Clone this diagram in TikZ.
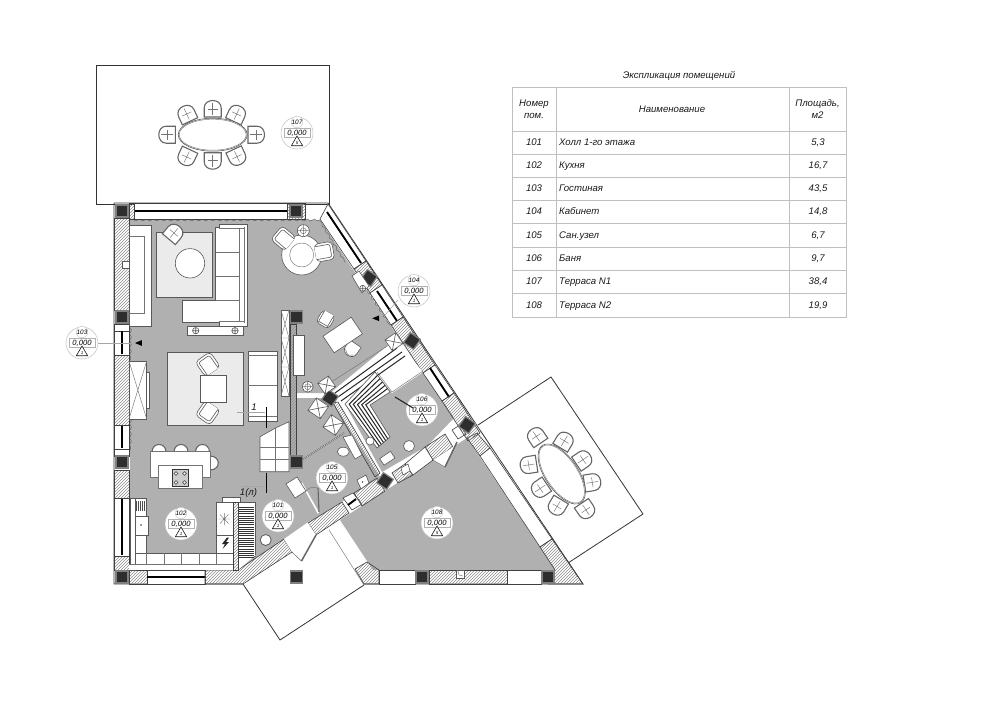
\documentclass[tikz,border=0pt]{standalone}
\usepackage{fontspec}
\setmainfont{Liberation Sans}
\usetikzlibrary{patterns,shapes.geometric,decorations.pathmorphing}

\newcommand{\dchair}[3]{\begin{scope}[shift={(#1,#2)},rotate=#3]
	\draw[chairline] (-8.5,8) -- (8.5,8) -- (8.5,-1) .. controls (8.5,-11) and (-8.5,-11) .. (-8.5,-1) -- cycle;
	\draw[thinline] (0,-6) -- (0,6) (-5,0) -- (5,0);
\end{scope}}
\newcommand{\armchair}[3]{\begin{scope}[shift={(#1,#2)},rotate=#3]
	\draw[furn,rounded corners=4] (-9,-9) rectangle (9,9);
	\draw[furn,rounded corners=2] (-6.5,9) -- (-6.5,-6.5) -- (6.5,-6.5) -- (6.5,9);
\end{scope}}
\newcommand{\xbox}[5]{\begin{scope}[shift={(#1,#2)},rotate=#3]
	\draw[furn] (-#4,-#5) rectangle (#4,#5) (-#4,-#5) -- (#4,#5) (-#4,#5) -- (#4,-#5);
\end{scope}}
\newcommand{\diningset}[3]{\begin{scope}[shift={(#1,#2)},rotate=#3]
	\dchair{0}{-25.7}{0}
	\dchair{-26}{-20.7}{25}
	\dchair{24}{-20.7}{-25}
	\dchair{-45.4}{0}{90}
	\dchair{43.3}{0}{-90}
	\dchair{-26}{22.3}{155}
	\dchair{0}{26}{180}
	\dchair{24.3}{22}{-155}
	\draw[furn] (0,0) ellipse [x radius=34.5,y radius=16.5];
	\draw[thinline] (0,0) ellipse [x radius=33.5,y radius=15.5];
\end{scope}}
\newcommand{\roomtag}[5]{%
	\node[tagdisc] (#1) at (#2,#3) {};
	\node[tagnum] (#1num) at ([yshift=11pt]#1.center) {#4};
	\node[tagbox] (#1lev) at (#1.center) {0,000};
	\node[tagtri] (#1tri) at ([yshift=-9.5pt]#1.center) {#5};
}

\begin{document}
\begin{tikzpicture}[x=1pt,y=-1pt]

	\tikzstyle outline=[draw=black!80,line width=.8];
	\tikzstyle furn=[draw=black!65,line width=.6,fill=white];
	\tikzstyle thinline=[draw=black!55,line width=.45];
	\tikzstyle chairline=[draw=black!60,line width=1.1,fill=white];
	\tikzstyle wallhatch=[draw=black!75,line width=.6,pattern=north east lines,pattern color=black!45];
	\tikzstyle glazing=[draw=black!75,line width=.6,fill=white];
	\tikzstyle pane=[draw=black,line width=1.9];
	\tikzstyle room=[fill=black!31];
	\tikzstyle rug=[draw=black!65,line width=.9,fill=black!8];
	\tikzstyle curtain=[draw=black!60,line width=.5,decorate,decoration={snake,amplitude=.9,segment length=7}];
	\tikzstyle pillar=[rectangle,draw=black!50,line width=1.2,fill=black!82,minimum size=12,inner sep=0];
	\tikzstyle tagdisc=[circle,draw=black!25,line width=.5,fill=white,minimum size=32,inner sep=0];
	\tikzstyle tagnum=[circle,draw=black!25,line width=.4,fill=white,minimum size=11,inner sep=0,font=\fontsize{6.4}{7}\selectfont\itshape];
	\tikzstyle tagbox=[rectangle,draw=black!30,line width=.4,fill=white,minimum width=26,minimum height=9,inner sep=0,font=\fontsize{7.6}{8}\selectfont\itshape];
	\tikzstyle tagtri=[regular polygon,regular polygon sides=3,draw=black!90,line width=.6,fill=white,minimum size=13,inner sep=0,font=\fontsize{4.5}{5}\selectfont\itshape];
	\tikzstyle cell=[inner sep=0,font=\fontsize{9.6}{11.5}\selectfont\itshape,align=center,text=black!90];
	\tikzstyle rowcell=[cell,text height=7,text depth=2];
	\tikzstyle gridline=[draw=black!25,line width=.8];
	\tikzstyle leader=[draw=black!35,line width=.5];

	\useasboundingbox (0,0) rectangle (1000,706);

	% terraces
	\draw[outline] (96,65) rectangle (329,204);
	\draw[outline] (478,425) -- (551,377) -- (643,514) -- (568,563);
	\draw[outline] (243,584) -- (280,640) -- (364,585);
	\draw[thinline] (329,530) -- (364,585);
	\draw[thinline] (292,552) -- (301.5,561);
	\diningset{212.7}{134.7}{0}
	\diningset{561.7}{474}{-56}

	% rooms
	\fill[room] (130,220) -- (320,220) -- (398,337) -- (330,393) -- (296,393) -- (296,462) -- (318,515) -- (284,539) -- (238,570) -- (130,570) -- cycle;
	\fill[room] (297,398) -- (330,398) -- (380,477) -- (354,494) -- (308,523) -- (318,513) -- (297,470) -- cycle;
	\fill[room] (345,404) -- (375,372) -- (392,393) -- (423,372) -- (454,418) -- (427,446) -- (382,472) -- cycle;
	\fill[room] (340,520) -- (467,438) -- (540,547) -- (555,570) -- (373,570) -- cycle;

	% curtains
	\draw[curtain] (130,220) -- (320,220);
	\draw[curtain] (320,221) -- (345,262);
	\draw[curtain] (358,276) -- (390,325);
	\draw[curtain] (130.5,328) -- (130.5,360);
	\draw[curtain] (130.5,418) -- (130.5,450);

	% outer walls
	\draw[glazing] (134,203) rectangle (287,219);
	\draw[pane] (134,211) -- (287,211);
	\draw[wallhatch] (129,203) rectangle (134,219);
	\draw[wallhatch] (287,203) rectangle (305,219);
	\draw[outline] (114,203) -- (328,203) -- (583,584) -- (364,584) (243,584) -- (114,584) -- (114,203);

	\draw[wallhatch] (114,218) rectangle (129,310);
	\draw[glazing] (114,324) rectangle (129,331);
	\draw[glazing] (114,331) rectangle (129,355);
	\draw[pane] (122,331) -- (122,354);
	\draw[wallhatch] (114,355) rectangle (129,425);
	\draw[glazing] (114,425) rectangle (129,449);
	\draw[pane] (122,426) -- (122,448);
	\draw[glazing] (114,449) rectangle (129,456);
	\draw[wallhatch] (114,470) rectangle (129,498);
	\draw[glazing] (114,498) rectangle (129,556);
	\draw[pane] (122,499) -- (122,555);
	\draw[wallhatch] (114,556) rectangle (129,570);
	\draw[wallhatch] (129,570) rectangle (147,584);
	\draw[glazing] (147,570) rectangle (205,584);
	\draw[pane] (147,577) -- (205,577);

	% diagonal wall
	\draw[wallhatch] (205,570) -- (238,570) -- (284,539) -- (292,552) -- (243,584) -- (205,584) -- cycle;
	\draw[wallhatch] (308,523) -- (342,502) -- (349,513) -- (316,535) -- cycle;
	\draw[glazing] (343,498) -- (353,493) -- (362,504) -- (352,510) -- cycle;
	\draw[pane] (348,505) -- (356,499);
	\draw[wallhatch] (354,493) -- (377,478) -- (385,491) -- (362,506) -- cycle;
	\draw[wallhatch] (392,473) -- (405,464) -- (413,475) -- (398,483) -- cycle;
	\draw[wallhatch] (425,447) -- (445,434) -- (453,447) -- (433,460) -- cycle;
	\draw[glazing] (452,430) -- (460,425) -- (466,434) -- (458,439) -- cycle;
	\draw[glazing] (405,464) -- (425,447) -- (433,460) -- (413,475) -- cycle;
	\fill[white] (284,539) -- (308,523) -- (316,535) -- (292,552) -- cycle;
	\fill[white] (292,552) -- (301.5,561) -- (316,535) -- cycle;
	\draw[thinline] (292,552) -- (301.5,561);
	\draw[line width=1.5,draw=black!60] (316,535) -- (301.5,561);
	\fill[white] (433,460) -- (445,467) -- (457,442) -- (453,447) -- cycle;
	\draw[thinline] (433,460) -- (445,467);
	\draw[line width=1.5,draw=black!60] (445,467) -- (457,442);

	% NE wall
	\draw[glazing] (328,204) -- (366,261) -- (354,269) -- (320,219) -- cycle;
	\draw[pane] (327,212) -- (361,263);
	\draw[wallhatch] (366,261) -- (382,285) -- (370,293) -- (354,269) -- cycle;
	\draw[glazing] (382,285) -- (403,317) -- (391,325) -- (370,293) -- cycle;
	\draw[pane] (377,291) -- (397,321);
	\draw[wallhatch] (403,317) -- (435,365) -- (423,373) -- (391,325) -- cycle;
	\draw[glazing] (435,365) -- (454,393) -- (442,401) -- (423,373) -- cycle;
	\draw[pane] (430,368) -- (449,397);
	\draw[wallhatch] (454,393) -- (480,433) -- (468,441) -- (442,401) -- cycle;
	\draw[wallhatch] (477,433) -- (490,448) -- (480,456) -- (467,438) -- cycle;
	\draw[glazing] (490,448) -- (552,539) -- (540,547) -- (480,456) -- cycle;
	\draw[wallhatch] (540,547) -- (552,539) -- (583,584) -- (548,584) -- (555,570) -- cycle;

	% south wall
	\draw[wallhatch] (355,569) -- (367,562) -- (379,570) -- (379,584) -- (364,584) -- cycle;
	\draw[glazing] (379,570) rectangle (415,584);
	\draw[wallhatch] (429,570) rectangle (507,584);
	\draw[glazing] (507,570) rectangle (541,584);
	\draw[furn] (456,570) rectangle (464,578);
	\draw[thinline] (458,571) -- (459,575) -- (463,576);

	% inner walls
	\draw[wallhatch] (290,324) rectangle (296,455);
	\draw[furn] (281,310) rectangle (289,396);
	\draw[thinline] (281,310) -- (289,338) -- (281,367) -- (289,396) (289,310) -- (281,338) -- (289,367) -- (281,396) (281,338) -- (289,338) (281,367) -- (289,367);
	\draw[wallhatch] (333,403) -- (338,402) -- (380,473) -- (375,477) -- cycle;
	\draw[draw=black!80,line width=1.1,fill=white] (302,460) -- (344,433);
	\draw[draw=white,line width=.4] (302,460) -- (344,433);
	\draw[draw=white,line width=1.6] (301.7,483) -- (318.3,513);
	\draw[furn] (286,484) -- (297,477) -- (306,491) -- (295,498) -- cycle;
	\draw[line width=1.1,draw=black!60] (318,488) -- (319,512);
	\draw[thinline] (305,492) .. controls (310,487) .. (318,488);

	% sauna
	\fill[white] (334,392) -- (398,343) -- (423,372) -- (392,393) -- (377,372) -- (345,404) -- cycle;
	\draw[thinline] (377,372) -- (392,392) -- (423,371);
	\draw[line width=1,draw=black!85] (335,393) -- (397,348) (338,397) -- (402,352) (341,401) -- (405,356);
	\draw[furn] (345,404) -- (375,372) -- (390,392) -- (370,405) -- (390,437) -- (377,448) -- cycle;
	\draw[line width=1,draw=black!85] (377.5,375.4) -- (349.2,404.2) -- (379.2,446.1);
	\draw[line width=1,draw=black!85] (380,378.6) -- (353.3,404.3) -- (381.3,444.4);
	\draw[line width=1,draw=black!85] (382.5,382) -- (357.5,404.5) -- (383.5,442.5);
	\draw[line width=1,draw=black!85] (385,385.4) -- (361.7,404.7) -- (385.7,440.6);
	\draw[line width=1,draw=black!85] (387.5,388.6) -- (365.8,404.8) -- (387.8,438.9);
	\draw[furn] (370,441) circle (4);
	\draw[furn] (409,446) circle (5.5);
	\begin{scope}[shift={(387.3,458.3)},rotate=34]
		\draw[furn] (-6.5,-4) rectangle (6.5,4);
	\end{scope}
	\draw[furn] (401,468) -- (408,464) -- (410,471) -- (403,475) -- cycle;

	% pillars
	\node[pillar] (col1) at (122,211) {};
	\node[pillar] (col2) at (296,211) {};
	\node[pillar] (col3) at (122,317) {};
	\node[pillar] (col4) at (296.5,317) {};
	\node[pillar] (col5) at (122,462) {};
	\node[pillar] (col6) at (296.5,462) {};
	\node[pillar] (col7) at (122,577) {};
	\node[pillar] (col8) at (296.5,577) {};
	\node[pillar] (col9) at (422,577) {};
	\node[pillar] (col10) at (548,577) {};
	\node[pillar,rotate=-34] (col11) at (369,278) {};
	\node[pillar,rotate=-34] (col12) at (412,341) {};
	\node[pillar,rotate=-34] (col13) at (467,425) {};
	\node[pillar,rotate=-34] (col14) at (330,398) {};
	\node[pillar,rotate=-34] (col15) at (385,481) {};

	% living room
	\draw[furn] (129,225) rectangle (151,326);
	\draw[thinline] (129,236) -- (144,236) -- (144,313) -- (129,313);
	\draw[furn] (122,261) rectangle (129,268);
	\draw[rug] (156.7,232.3) rectangle (212,297.3);
	\draw[furn] (190,263.3) circle (14.7);
	\dchair{174}{233}{-40}
	\draw[furn] (219,224) -- (247.7,224) -- (247.7,326) -- (219,326) -- (219,322.7) -- (182.7,322.7) -- (182.7,300.7) -- (215.7,300.7) -- (215.7,227.3) -- (219,227.3) -- cycle;
	\draw[thinline] (215.7,252.3) -- (239.3,252.3) (215.7,276.7) -- (239.3,276.7) (215.7,300.7) -- (239.3,300.7) (239.3,228) -- (239.3,321.7) (244.3,227.3) -- (244.3,322.7) (219,228) -- (244.3,228) (219,321.7) -- (244.3,321.7);
	\draw[furn] (187.7,326) rectangle (243.3,335);
	\draw[furn] (195.7,330.7) circle (3.2) (192.5,330.7) -- (198.9,330.7) (195.7,327.5) -- (195.7,333.9);
	\draw[furn] (235,330.7) circle (3.2) (231.8,330.7) -- (238.2,330.7) (235,327.5) -- (235,333.9);
	\draw[rug] (167.7,352.7) rectangle (243.3,425);
	\armchair{207.7}{364.3}{35}
	\armchair{207.7}{412.7}{145}
	\draw[furn] (200,375.7) rectangle (226.7,402.3);
	\draw[furn] (248.3,351.7) rectangle (277,421);
	\draw[thinline] (248.3,355) -- (277,355) (248.3,385) -- (277,385) (248.3,416) -- (277,416);
	\draw[furn] (146.7,372) rectangle (149,408);
	\draw[furn] (129,361) rectangle (146.7,419);
	\draw[thinline] (129,361) -- (146.7,419) (146.7,361) -- (129,419);
	\draw[leader] (98,343) -- (133,343);
	\node[isosceles triangle,fill=black,minimum height=7,minimum width=3,inner sep=0,shape border rotate=180] (mark103) at (140,343) {};

	% lounge and office
	\draw[furn] (301.7,255) circle (20);
	\draw[thinline] (301.7,255) circle (12);
	\armchair{283.3}{238.3}{50}
	\armchair{324.3}{251.7}{-80}
	\draw[furn] (303.3,230.7) circle (6);
	\draw[thinline] (303.3,230.7) circle (3) (297.3,230.7) -- (309.3,230.7) (303.3,224.7) -- (303.3,236.7);
	\draw[furn] (293.3,335) rectangle (304.3,375);
	\draw[furn] (307.7,386.7) circle (5.5);
	\draw[thinline] (307.7,386.7) circle (3) (302.2,386.7) -- (313.2,386.7) (307.7,381.2) -- (307.7,392.2);
	\draw[thinline] (326.7,385) -- (394,341.7);
	\xbox{326.7}{385}{34}{6.5}{6.5}
	\xbox{394}{341.7}{34}{6.5}{6.5}
	\begin{scope}[shift={(325.7,319.3)},rotate=-30,scale=.8]
		\draw[furn,rounded corners=4] (-9,-9) rectangle (9,9);
		\draw[furn] (-6.5,-9) -- (-6.5,6.5) -- (6.5,6.5) -- (6.5,-9);
	\end{scope}
	\begin{scope}[shift={(351.7,349.3)},rotate=146,scale=.85]
		\draw[furn] (-8,8) -- (8,8) -- (8,-1) .. controls (8,-11) and (-8,-11) .. (-8,-1) -- cycle;
		\draw[thinline] (-6,-4) .. controls (0,-9) .. (6,-4);
	\end{scope}
	\begin{scope}[shift={(342.7,335)},rotate=34]
		\draw[furn] (-17,-10) rectangle (17,10);
	\end{scope}
	\draw[furn] (352,276) -- (359,271) -- (369,286) -- (362,293) -- cycle;
	\draw[furn] (362.7,288.3) circle (3) (359.7,288.3) -- (365.7,288.3) (362.7,285.3) -- (362.7,291.3);
	\draw[leader] (398,300) -- (385,315);
	\node[isosceles triangle,fill=black,minimum height=7,minimum width=3,inner sep=0,shape border rotate=215] (mark104) at (377.3,318.3) {};

	% kitchen
	\draw[chairline] (152,452) .. controls (152,442) and (166,442) .. (166,452);
	\draw[chairline] (174,452) .. controls (174,442) and (188,442) .. (188,452);
	\draw[chairline] (195.5,452) .. controls (195.5,442) and (209.5,442) .. (209.5,452);
	\draw[chairline] (210,456) .. controls (221,456) and (221,470) .. (210,470);
	\fill[white] (150,451) rectangle (210.7,477.3);
	\draw[thinline] (150,451) rectangle (210.7,477.3);
	\fill[white] (158.7,465.3) rectangle (202,488.3);
	\draw[thinline] (158.7,465.3) rectangle (202,488.3);
	\draw[draw=black!80,line width=1,fill=black!20] (172,469.3) rectangle (188.7,486.7);
	\draw[furn,line width=.7] (176,473.5) circle (1.8) (184.5,473.5) circle (1.8) (176,482.5) circle (1.8) (184.5,482.5) circle (1.8);
	\draw[furn] (130,498.3) rectangle (135,570);
	\draw[furn] (135,498.3) rectangle (146.7,553.3);
	\draw[line width=10,draw=black!70,dash pattern=on .8 off 1.2] (136,505.5) -- (146,505.5);
	\draw[furn] (135,516.7) rectangle (148.3,535);
	\fill[black!80] (141,525) circle (.8);
	\draw[furn] (135,553.3) rectangle (233,564.3);
	\draw[thinline] (146.7,553.3) -- (146.7,564.3) (164.3,553.3) -- (164.3,564.3) (181.7,553.3) -- (181.7,564.3) (199.3,553.3) -- (199.3,564.3) (216.7,553.3) -- (216.7,564.3);
	\fill[white] (129,564.3) rectangle (233,570);
	\draw[thinline] (129,564.3) -- (233,564.3);
	\draw[furn] (222,497.5) rectangle (240,502.7);
	\draw[furn] (216.7,502.7) rectangle (233.3,535);
	\draw[furn] (216.7,535) rectangle (233.3,553.3);
	\draw[thinline] (218.5,519) -- (230,519) (224.3,513) -- (224.3,525) (220,514.5) -- (228.5,523.5) (220,523.5) -- (228.5,514.5);
	\fill[black!85] (227,537.5) -- (222,544) -- (225,544) -- (222.5,549) -- (229,542) -- (226,542) -- (229,537.5) -- cycle;
	\draw[furn] (233.3,502.7) rectangle (255.7,556);
	\fill[white] (233.3,556) -- (255.7,556) -- (255.7,555) -- (238,570) -- (233.3,570) -- cycle;
	\draw[line width=15,draw=black!80,dash pattern=on .9 off 1.3] (246.5,506.7) -- (246.5,558);
	\draw[wallhatch] (233.3,502.7) rectangle (238.3,570);
	\draw[furn,line width=.8] (265.7,540) circle (5.5);

	% stairs
	\draw[furn] (260,436.7) -- (275,428.3) -- (289,421.7) -- (289,471.7) -- (260,471.7) -- cycle;
	\draw[thinline] (275.3,428.3) -- (275.3,471.7) (260,447.3) -- (289,447.3) (260,459.3) -- (289,459.3);
	\draw[line width=1.5,draw=black] (266.7,406.7) -- (266.7,428.3);
	\draw[line width=1.5,draw=black] (266.7,472.7) -- (266.7,493.3);
	\draw[leader] (236.7,412.7) -- (265,412.7);
	\draw[leader] (241.7,486.7) -- (265,486.7);
	\node[cell] (sect1) at (254,407.3) {1};
	\node[cell] (sect1a) at (248.5,493) {1(л)};

	% bath fittings
	\xbox{318.3}{408.3}{-34}{7.5}{7.5}
	\xbox{333.3}{425}{-34}{7.5}{7.5}
	\draw[furn] (343.3,451.7) ellipse [x radius=6,y radius=4.5];
	\draw[furn] (343,437) -- (352,435) -- (362,455) -- (355,459) -- cycle;
	\draw[furn] (357,480) -- (366,475) -- (369,483) -- (361,489) -- cycle;
	\fill[black!70] (362.5,482) circle (.9);

	% room tags
	\roomtag{room107}{297}{133}{107}{5}
	\roomtag{room103}{82}{343}{103}{1}
	\roomtag{room104}{414}{291}{104}{1}
	\roomtag{room106}{422}{410}{106}{1}
	\roomtag{room105}{332}{478}{105}{1}
	\roomtag{room101}{278}{516}{101}{1}
	\roomtag{room102}{181}{524}{102}{1}
	\roomtag{room108}{437}{523}{108}{5}
	\draw[line width=1.1,draw=black!85] (395,397) -- (413,408);

	% room schedule
	\node[cell] (title) at (679,76) {Экспликация помещений};
	\draw[gridline] (512,87) rectangle (846,317);
	\draw[gridline] (556,87) -- (556,317) (789,87) -- (789,317);
	\draw[gridline] (512,131) -- (846,131) (512,154) -- (846,154) (512,177) -- (846,177) (512,200) -- (846,200);
	\draw[gridline] (512,223) -- (846,223) (512,247) -- (846,247) (512,270) -- (846,270) (512,293) -- (846,293);
	\node[cell] (headnum) at (534,109) {Номер\\пом.};
	\node[cell] (headname) at (672,109.5) {Наименование};
	\node[cell] (headarea) at (817.5,109) {Площадь,\\м2};
	\node[rowcell] (num101) at (534,143) {101};
	\node[rowcell] (num102) at (534,166) {102};
	\node[rowcell] (num103) at (534,189) {103};
	\node[rowcell] (num104) at (534,212) {104};
	\node[rowcell] (num105) at (534,236) {105};
	\node[rowcell] (num106) at (534,259) {106};
	\node[rowcell] (num107) at (534,282) {107};
	\node[rowcell] (num108) at (534,305.5) {108};
	\node[rowcell,anchor=west] (name101) at (559,143) {Холл 1-го этажа};
	\node[rowcell,anchor=west] (name102) at (559,166) {Кухня};
	\node[rowcell,anchor=west] (name103) at (559,189) {Гостиная};
	\node[rowcell,anchor=west] (name104) at (559,212) {Кабинет};
	\node[rowcell,anchor=west] (name105) at (559,236) {Сан.узел};
	\node[rowcell,anchor=west] (name106) at (559,259) {Баня};
	\node[rowcell,anchor=west] (name107) at (559,282) {Терраса N1};
	\node[rowcell,anchor=west] (name108) at (559,305.5) {Терраса N2};
	\node[rowcell] (area101) at (818,143) {5,3};
	\node[rowcell] (area102) at (818,166) {16,7};
	\node[rowcell] (area103) at (818,189) {43,5};
	\node[rowcell] (area104) at (818,212) {14,8};
	\node[rowcell] (area105) at (818,236) {6,7};
	\node[rowcell] (area106) at (818,259) {9,7};
	\node[rowcell] (area107) at (818,282) {38,4};
	\node[rowcell] (area108) at (818,305.5) {19,9};

\end{tikzpicture}
\end{document}
